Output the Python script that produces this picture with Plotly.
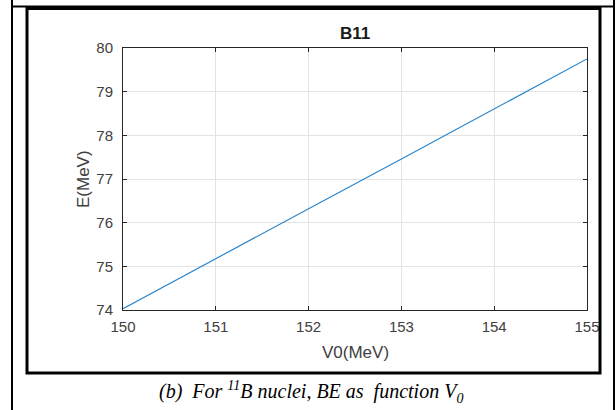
import plotly.graph_objects as go

# Data
v0 = [150, 151, 152, 153, 154, 155]
energy = [74.03, 75.18, 76.32, 77.46, 78.60, 79.75]
x_ticks = [150, 151, 152, 153, 154, 155]
y_ticks = [74, 75, 76, 77, 78, 79, 80]

W, H = 616, 410
L, R, T, B = 123, 587, 48, 310  # plot area in pixels
pw, ph = R - L, B - T


def px(x):
    return (x - L) / pw


def py(y):
    return (B - y) / ph


fig = go.Figure()
fig.add_trace(go.Scatter(x=v0, y=energy, mode="lines",
                         line=dict(color="#2b86cc", width=1.2),
                         showlegend=False, hoverinfo="skip"))

axis_common = dict(
    showline=True, linecolor="#262626", linewidth=1, mirror="allticks",
    ticks="inside", ticklen=4, tickcolor="#262626", tickwidth=1,
    showgrid=True, gridcolor="#e3e3e3", gridwidth=1, zeroline=False,
    automargin=False,
    tickfont=dict(family="Liberation Sans, Arial", size=15, color="#404040"),
)

fig.update_xaxes(range=[150, 155], tickvals=x_ticks,
                 ticktext=[str(t) for t in x_ticks], ticklabelstandoff=3,
                 **axis_common)
fig.update_yaxes(range=[74, 80], tickvals=y_ticks,
                 ticktext=[str(t) for t in y_ticks], ticklabelstandoff=6,
                 **axis_common)

shapes = [
    # outer table borders
    dict(type="line", xref="paper", yref="paper", x0=px(12), x1=px(12),
         y0=py(0), y1=py(410), line=dict(color="black", width=2)),
    dict(type="line", xref="paper", yref="paper", x0=px(614), x1=px(614),
         y0=py(0), y1=py(410), line=dict(color="black", width=2)),
    dict(type="line", xref="paper", yref="paper", x0=px(12), x1=px(614),
         y0=py(6.5), y1=py(6.5), line=dict(color="black", width=2)),
    # inner figure frame
    dict(type="rect", xref="paper", yref="paper", x0=px(27), x1=px(600),
         y0=py(8.5), y1=py(373), line=dict(color="black", width=3)),
]

base = dict(xref="paper", yref="paper", showarrow=False,
            xanchor="center", yanchor="middle")
annotations = [
    dict(text="<b>B11</b>", x=px(355), y=py(33),
         font=dict(family="Liberation Sans, Arial", size=17, color="#1a1a1a"),
         **base),
    dict(text="V0(MeV)", x=px(355), y=py(353),
         font=dict(family="Liberation Sans, Arial", size=17, color="#404040"),
         **base),
    dict(text="E(MeV)", x=px(83), y=py(179), textangle=-90,
         font=dict(family="Liberation Sans, Arial", size=17, color="#404040"),
         **base),
    dict(text="<i>(b)&nbsp;&nbsp;For <sup>11</sup>B nuclei, BE as&nbsp;&nbsp;function V<sub>0</sub></i>",
         x=px(311), y=py(392),
         font=dict(family="Liberation Serif, Times New Roman", size=20,
                   color="black"), **base),
]

fig.update_layout(
    width=W, height=H,
    margin=dict(l=L, r=W - R, t=T, b=H - B, pad=0, autoexpand=False),
    paper_bgcolor="white", plot_bgcolor="white",
    shapes=shapes, annotations=annotations,
)

fig.write_html("out.html", config={"displayModeBar": False})
